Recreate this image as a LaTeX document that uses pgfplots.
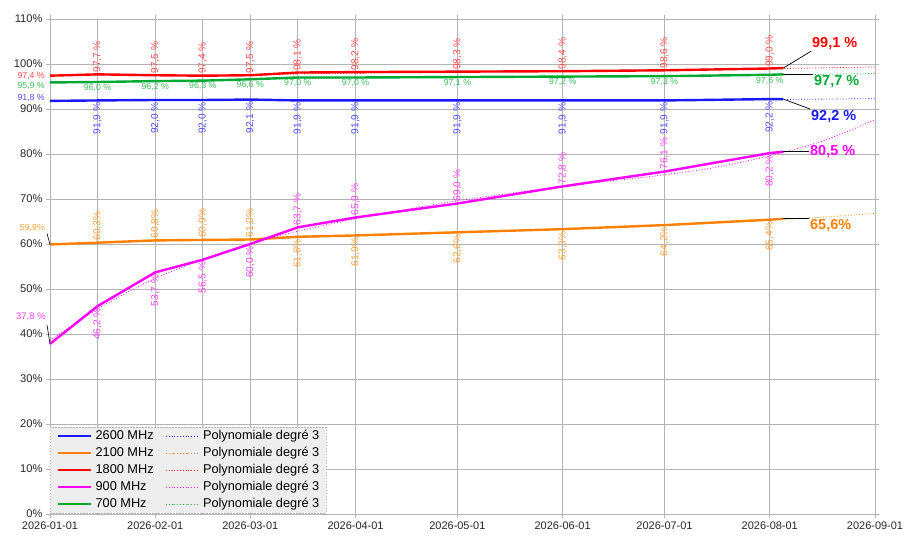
\documentclass[border=0pt]{standalone}
\usepackage{fontspec}
\setmainfont{Liberation Sans}
\usepackage{pgfplots}
\pgfplotsset{compat=1.18}
\definecolor{colB}{RGB}{25,25,250}
\definecolor{colBl}{RGB}{80,80,255}
\definecolor{colO}{RGB}{255,128,0}
\definecolor{colOl}{RGB}{255,160,60}
\definecolor{colR}{RGB}{255,0,0}
\definecolor{colRl}{RGB}{255,80,80}
\definecolor{colM}{RGB}{255,0,255}
\definecolor{colMl}{RGB}{255,70,255}
\definecolor{colG}{RGB}{0,169,51}
\definecolor{colGl}{RGB}{60,190,90}
\definecolor{gridc}{RGB}{179,179,179}
\definecolor{legbg}{RGB}{238,238,238}
\pgfplotstableread{
day b o r m g
0 91.8 59.9 97.4 37.8 95.9
14 91.9 60.3 97.7 46.2 96.0
31 92.0 60.8 97.5 53.7 96.2
45 92.0 60.9 97.4 56.5 96.3
59 92.1 61.0 97.5 60.0 96.6
73 91.9 61.6 98.1 63.7 97.0
90 91.9 61.9 98.2 65.9 97.0
120 91.9 62.6 98.3 69.0 97.1
151 91.9 63.3 98.4 72.8 97.2
181 91.9 64.2 98.6 76.1 97.3
212 92.2 65.4 99.0 80.2 97.6
216 92.2 65.6 99.1 80.5 97.7
}\data
\pgfplotstableread{
day b o r m g
0 91.85 60.0 97.55 38.6 95.9
15 91.92 60.3 97.5 46.0 96.05
30 91.98 60.6 97.45 52.0 96.2
45 92.0 60.85 97.5 56.6 96.4
60 92.0 61.1 97.6 60.3 96.6
75 91.98 61.45 97.8 63.2 96.75
90 91.95 61.8 97.95 65.6 96.9
105 91.92 62.15 98.1 67.7 97.0
120 91.9 62.5 98.25 69.6 97.1
135 91.9 62.9 98.35 71.2 97.15
150 91.9 63.3 98.45 72.7 97.2
165 91.92 63.75 98.55 74.0 97.28
180 91.95 64.2 98.65 75.3 97.35
195 92.0 64.7 98.78 76.9 97.45
212 92.1 65.3 98.95 79.6 97.55
228 92.2 66.0 99.15 83.0 97.7
243 92.3 66.8 99.35 87.6 97.9
}\trend
\newcommand{\lf}{\fontsize{10.2}{12}\selectfont}
\newcommand{\hf}{\fontsize{8.8}{10}\selectfont}
\begin{document}
\begin{tikzpicture}
\path[use as bounding box] (-50bp,-33bp) rectangle (864bp,514bp);
\begin{axis}[
  scale only axis, width=825bp, height=495bp,
  at={(0,0)}, anchor=south west,
  xmin=0, xmax=243, ymin=0, ymax=110,
  xtick={0,31,59,90,120,151,181,212,243},
  xticklabels={2026-01-01,2026-02-01,2026-03-01,2026-04-01,2026-05-01,2026-06-01,2026-07-01,2026-08-01,2026-09-01},
  extra x ticks={14,45,73}, extra x tick labels={},
  extra x tick style={grid=major, major tick length=0pt},
  ytick={0,10,20,30,40,50,60,70,80,90,100,110},
  yticklabels={0\%,10\%,20\%,30\%,40\%,50\%,60\%,70\%,80\%,90\%,100\%,110\%},
  grid=major, grid style={gridc, line width=0.8bp},
  axis line style={gridc, line width=0.9bp},
  tick style={gridc, line width=0.8bp}, major tick length=4bp, tick align=outside,
  xticklabel style={font=\fontsize{11}{12}\selectfont, text=black!85},
  yticklabel style={font=\fontsize{11.2}{12}\selectfont, text=black!85},
  clip=false,
  legend columns=2, legend cell align=left,
  legend image code/.code={\draw[#1] (0bp,0bp) -- (33bp,0bp);},
  legend style={at={(0,1bp)}, anchor=south west, fill=legbg, draw=gray!60,
    dash pattern=on 1.5bp off 1.5bp, font=\fontsize{12.8}{14}\selectfont,
    inner xsep=6.5bp, inner ysep=3bp, row sep=5.5bp,
    nodes={inner sep=0bp, text height=9bp, text depth=2.5bp},
    /tikz/every odd column/.append style={column sep=3.5bp},
    /tikz/every even column/.append style={column sep=12bp}},
]
\addplot[colB, solid, line width=2.4bp] table[x=day,y=b] {\data};
\addlegendentry{2600 MHz}
\addplot[colB, dotted, line width=0.8bp, smooth] table[x=day,y=b] {\trend};
\addlegendentry{Polynomiale degré 3}
\addplot[colO, solid, line width=2.4bp] table[x=day,y=o] {\data};
\addlegendentry{2100 MHz}
\addplot[colO, dotted, line width=0.8bp, smooth] table[x=day,y=o] {\trend};
\addlegendentry{Polynomiale degré 3}
\addplot[colR, solid, line width=2.4bp] table[x=day,y=r] {\data};
\addlegendentry{1800 MHz}
\addplot[colR, dotted, line width=0.8bp, smooth] table[x=day,y=r] {\trend};
\addlegendentry{Polynomiale degré 3}
\addplot[colM, solid, line width=2.4bp] table[x=day,y=m] {\data};
\addlegendentry{900 MHz}
\addplot[colM, dotted, line width=0.8bp, smooth] table[x=day,y=m] {\trend};
\addlegendentry{Polynomiale degré 3}
\addplot[colG, solid, line width=2.4bp] table[x=day,y=g] {\data};
\addlegendentry{700 MHz}
\addplot[colG, dotted, line width=0.8bp, smooth] table[x=day,y=g] {\trend};
\addlegendentry{Polynomiale degré 3}

% red labels (above)
\begin{scope}[every node/.style={rotate=90, anchor=west, inner sep=1.5bp, font=\lf, text=colRl}]
\node at (axis cs:14,97.7) {97,7 \%};
\node at (axis cs:31,97.5) {97,5 \%};
\node at (axis cs:45,97.4) {97,4 \%};
\node at (axis cs:59,97.5) {97,5 \%};
\node at (axis cs:73,98.1) {98,1 \%};
\node at (axis cs:90,98.2) {98,2 \%};
\node at (axis cs:120,98.3) {98,3 \%};
\node at (axis cs:151,98.4) {98,4 \%};
\node at (axis cs:181,98.6) {98,6 \%};
\node at (axis cs:212,99.0) {99,0 \%};
\end{scope}
% blue labels (below)
\begin{scope}[every node/.style={rotate=90, anchor=east, inner sep=2bp, font=\lf, text=colBl}]
\node at (axis cs:14,91.9) {91,9 \%};
\node at (axis cs:31,92.0) {92,0 \%};
\node at (axis cs:45,92.0) {92,0 \%};
\node at (axis cs:59,92.1) {92,1 \%};
\node at (axis cs:73,91.9) {91,9 \%};
\node at (axis cs:90,91.9) {91,9 \%};
\node at (axis cs:120,91.9) {91,9 \%};
\node at (axis cs:151,91.9) {91,9 \%};
\node at (axis cs:181,91.9) {91,9 \%};
\node at (axis cs:212,92.2) {92,2 \%};
\end{scope}
% green labels (below, horizontal)
\begin{scope}[every node/.style={anchor=north, inner sep=2bp, font=\hf, text=colGl}]
\node at (axis cs:14,96.0) {96,0 \%};
\node at (axis cs:31,96.2) {96,2 \%};
\node at (axis cs:45,96.3) {96,3 \%};
\node at (axis cs:59,96.6) {96,6 \%};
\node at (axis cs:73,97.0) {97,0 \%};
\node at (axis cs:90,97.0) {97,0 \%};
\node at (axis cs:120,97.1) {97,1 \%};
\node at (axis cs:151,97.2) {97,2 \%};
\node at (axis cs:181,97.3) {97,3 \%};
\node at (axis cs:212,97.6) {97,6 \%};
\end{scope}
% orange labels
\begin{scope}[every node/.style={rotate=90, inner sep=2bp, font=\lf, text=colOl}]
\node[anchor=west] at (axis cs:14,60.3) {60,3\%};
\node[anchor=west] at (axis cs:31,60.8) {60,8\%};
\node[anchor=west] at (axis cs:45,60.9) {60,9\%};
\node[anchor=west] at (axis cs:59,61.0) {61,0\%};
\node[anchor=east] at (axis cs:73,61.6) {61,6\%};
\node[anchor=east] at (axis cs:90,61.9) {61,9\%};
\node[anchor=east] at (axis cs:120,62.6) {62,6\%};
\node[anchor=east] at (axis cs:151,63.3) {63,3\%};
\node[anchor=east] at (axis cs:181,64.2) {64,2\%};
\node[anchor=east] at (axis cs:212,65.4) {65,4\%};
\end{scope}
% magenta labels
\begin{scope}[every node/.style={rotate=90, inner sep=2bp, font=\lf, text=colMl}]
\node[anchor=east] at (axis cs:14,46.2) {46,2 \%};
\node[anchor=east] at (axis cs:31,53.7) {53,7 \%};
\node[anchor=east] at (axis cs:45,56.5) {56,5 \%};
\node[anchor=east] at (axis cs:59,60.0) {60,0 \%};
\node[anchor=west] at (axis cs:73,63.7) {63,7 \%};
\node[anchor=west] at (axis cs:90,65.9) {65,9 \%};
\node[anchor=west] at (axis cs:120,69.0) {69,0 \%};
\node[anchor=west] at (axis cs:151,72.8) {72,8 \%};
\node[anchor=west] at (axis cs:181,76.1) {76,1 \%};
\node[anchor=east] at (axis cs:212,80.2) {80,2 \%};
\end{scope}
% first-point labels (left)
\begin{scope}[every node/.style={anchor=east, inner sep=0bp, font=\hf}]
\node[text=colRl] at ([xshift=-5bp]axis cs:0,97.4) {97,4 \%};
\node[text=colGl] at ([xshift=-5bp,yshift=-3.5bp]axis cs:0,95.9) {95,9 \%};
\node[text=colBl] at ([xshift=-5bp,yshift=2.5bp]axis cs:0,91.8) {91,8 \%};
\node[text=colOl] at ([xshift=-5bp,yshift=16.5bp]axis cs:0,59.9) {59,9\%};
\node[text=colMl, font=\fontsize{9.6}{11}\selectfont] at ([xshift=-4bp,yshift=27bp]axis cs:0,37.8) {37,8 \%};
\end{scope}
\draw[black, line width=0.6bp] (axis cs:0,59.9) -- ++(-3bp,11bp);
\draw[black, line width=0.6bp] (axis cs:0,37.8) -- ++(-3bp,19bp);
% last-point labels
\begin{scope}[every node/.style={inner sep=0.5bp, font=\fontsize{14.5}{16}\selectfont\bfseries}]
\draw[black, line width=0.7bp] (axis cs:216,99.1) -- ++(28bp,17bp) node[anchor=south west, text=colR] {99,1 \%};
\draw[black, line width=0.7bp] (axis cs:216,97.7) -- ++(30bp,0bp) node[anchor=north west, text=colG] {97,7 \%};
\draw[black, line width=0.7bp] (axis cs:216,92.2) -- ++(27bp,-10bp) node[anchor=north west, text=colB] {92,2 \%};
\draw[black, line width=0.7bp] (axis cs:216,80.5) -- ++(26bp,0bp) node[anchor=west, text=colM] {80,5 \%};
\draw[black, line width=0.7bp] (axis cs:216,65.6) -- ++(26bp,0bp) node[anchor=north west, text=colO] {65,6\%};
\end{scope}
\end{axis}
\end{tikzpicture}
\end{document}
